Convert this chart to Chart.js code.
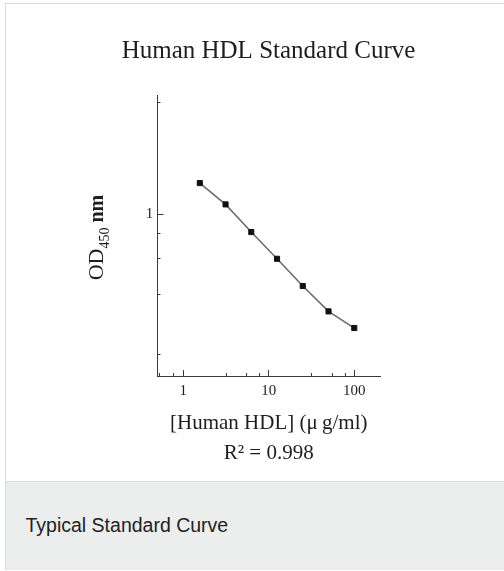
<!DOCTYPE html>
<html>
<head>
<meta charset="utf-8">
<title>Human HDL Standard Curve</title>
<script src="https://cdn.jsdelivr.net/npm/chart.js@4.4.0/dist/chart.umd.min.js"></script>
<style>
html, body { margin: 0; padding: 0; background: #fff; width: 504px; height: 571px; overflow: hidden; }
#frame { position: absolute; left: 5px; top: 3px; width: 520px; height: 566px; border-top: 1px solid #dcdcdc; border-left: 1px solid #dcdcdc; }
#caption { position: absolute; left: 0; top: 477px; width: 100%; height: 88px; background: #eceeee; border-top: 1px solid #dcdcdc; }
#caption span { position: absolute; left: 19.5px; top: 32px; font-family: 'Liberation Sans', Arial, sans-serif; font-size: 19.5px; line-height: 22px; color: #222; white-space: nowrap; }
#mycanvas { position: absolute; left: 33px; top: 0; z-index: 1; }
</style>
</head>
<body>
<div id="frame">
	<div id="caption"><span>Typical Standard Curve</span></div>
</div>
<canvas id="mycanvas" width="471" height="482"></canvas>
<script>
// standard curve values
var concentration = [1.5625, 3.125, 6.25, 12.5, 25, 50, 100];
var od450 = [1.43, 1.12, 0.816, 0.601, 0.44, 0.329, 0.272];

// axes
var xRange = [0.5, 200];
var yRange = [0.157, 3.92];
var xMajorTicks = [1, 10, 100];
var xMinorTicks = [0.53, 0.76, 3.2, 5.5, 7.7, 32, 55, 78];
var yMajorTicks = [1];
var yMinorTicks = [0.2, 0.4, 0.6, 0.8, 3.6];

var chartTitle = 'Human HDL Standard Curve';
var xTitle = ['[Human HDL] (\u03bc\u2009g/ml)', 'R\u00b2 = 0.998'];

var serif = "'Liberation Serif', 'Times New Roman', serif";
var axisColor = '#3a3a3a';
var textColor = '#1e1e1e';

function setTicks(values) {
	return function(scale) {
		scale.ticks = values.map(function(v) { return { value: v }; });
	};
}

var points = [];
for (var i in concentration) {
	points.push({ x: concentration[i], y: od450[i] });
}

// y title with the subscript, drawn next to the y axis
var yTitlePlugin = {
	id: 'yTitle',
	afterDraw: function(chart) {
		var ctx = chart.ctx;
		var area = chart.chartArea;
		var parts = [
			{ text: 'OD', font: '22px ' + serif, dy: 0 },
			{ text: '450', font: '14px ' + serif, dy: 6 },
			{ text: ' nm', font: 'bold 20px ' + serif, dy: 0 }
		];
		ctx.save();
		var total = 0;
		parts.forEach(function(p) { ctx.font = p.font; p.w = ctx.measureText(p.text).width; total += p.w; });
		ctx.translate(area.left - 54.5, (area.top + area.bottom) / 2 + 2);
		ctx.rotate(-Math.PI / 2);
		ctx.fillStyle = textColor;
		ctx.textBaseline = 'alphabetic';
		ctx.textAlign = 'left';
		var x = -total / 2;
		parts.forEach(function(p) {
			ctx.font = p.font;
			ctx.fillText(p.text, x, p.dy);
			x += p.w;
		});
		ctx.restore();
	}
};

var chartdata = {
	datasets: [
		{
			label: 'OD450',
			data: points,
			showLine: true,
			borderColor: '#6a6a6a',
			borderWidth: 1.5,
			pointStyle: 'rect',
			pointRadius: 3.6,
			pointBackgroundColor: '#111',
			pointBorderColor: '#111',
			pointBorderWidth: 1,
			xAxisID: 'x',
			yAxisID: 'y'
		}
	]
};

var ctx = document.getElementById('mycanvas');

var curve = new Chart(ctx, {
	type: 'scatter',
	data: chartdata,
	plugins: [yTitlePlugin],
	options: {
		responsive: false,
		animation: false,
		layout: { padding: 0 },
		plugins: {
			legend: { display: false },
			tooltip: { enabled: false },
			title: {
				display: true,
				text: chartTitle,
				color: textColor,
				font: { family: serif, size: 25, weight: 'normal', lineHeight: 1.2 },
				padding: { top: 36.7, bottom: 28.3 }
			}
		},
		scales: {
			x: {
				type: 'logarithmic',
				position: 'bottom',
				weight: 1,
				min: xRange[0],
				max: xRange[1],
				bounds: 'data',
				afterBuildTicks: setTicks(xMajorTicks),
				afterFit: function(scale) { scale.height = 106; },
				border: { display: true, color: axisColor, width: 1 },
				grid: { display: true, drawOnChartArea: false, drawTicks: true, tickLength: -6, color: axisColor },
				ticks: {
					autoSkip: false,
					maxRotation: 0,
					padding: 11.7,
					color: textColor,
					font: { family: serif, size: 15 },
					callback: function(v) { return String(v); }
				},
				title: {
					display: true,
					text: xTitle,
					color: textColor,
					font: { family: serif, size: 21, lineHeight: 1.42 },
					padding: { top: 0, bottom: 13.8 }
				}
			},
			xMinor: {
				type: 'logarithmic',
				position: 'bottom',
				weight: 0,
				min: xRange[0],
				max: xRange[1],
				bounds: 'data',
				afterBuildTicks: setTicks(xMinorTicks),
				afterFit: function(scale) { scale.height = 0; },
				border: { display: false },
				grid: { display: true, drawOnChartArea: false, drawTicks: true, tickLength: -3, color: axisColor },
				ticks: { display: false, autoSkip: false }
			},
			y: {
				type: 'logarithmic',
				position: 'left',
				weight: 1,
				min: yRange[0],
				max: yRange[1],
				bounds: 'data',
				afterBuildTicks: setTicks(yMajorTicks),
				afterFit: function(scale) { scale.width = 124.5; },
				border: { display: true, color: axisColor, width: 1 },
				grid: { display: true, drawOnChartArea: false, drawTicks: true, tickLength: -6, color: axisColor },
				ticks: {
					autoSkip: false,
					padding: 10.2,
					color: textColor,
					font: { family: serif, size: 15 },
					callback: function(v) { return String(v); }
				},
				title: { display: false }
			},
			yMinor: {
				type: 'logarithmic',
				position: 'left',
				weight: 0,
				min: yRange[0],
				max: yRange[1],
				bounds: 'data',
				afterBuildTicks: setTicks(yMinorTicks),
				afterFit: function(scale) { scale.width = 0; },
				border: { display: false },
				grid: { display: true, drawOnChartArea: false, drawTicks: true, tickLength: -3, color: axisColor },
				ticks: { display: false, autoSkip: false }
			},
			// empty space on the right of the plot
			yRight: {
				type: 'logarithmic',
				position: 'right',
				min: yRange[0],
				max: yRange[1],
				afterFit: function(scale) { scale.width = 124; },
				border: { display: false },
				grid: { display: false },
				ticks: { display: false }
			}
		}
	}
});
</script>
</body>
</html>
